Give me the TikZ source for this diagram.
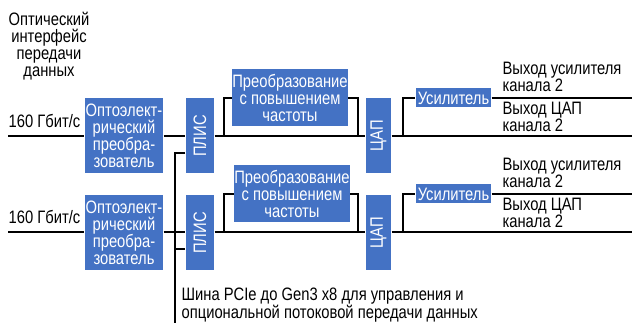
\documentclass[tikz,border=0pt]{standalone}
\usepackage{fontspec}
\setmainfont{Liberation Sans}[FakeStretch=0.82]
\usepackage{graphicx}
\definecolor{boxblue}{HTML}{4472C4}
\tikzset{
  blk/.style={fill=boxblue, text=white, inner sep=0pt, align=center},
  lbl/.style={inner sep=0pt, align=left},
}
\begin{document}
\begin{tikzpicture}[x=1pt,y=-1pt,line width=1.2pt,font=\fontsize{18}{17}\selectfont]
\useasboundingbox (0,0) rectangle (632,323);
% upper channel
\node[blk,minimum width=78pt,minimum height=75pt] (opto1) at (124,136) {Оптоэлект-\\рический\\преобра-\\зователь};
\node[blk,minimum width=28pt,minimum height=75pt] (plis1) at (200,136) {\rotatebox{90}{ПЛИС}};
\node[blk,minimum width=114pt,minimum height=57pt] (up1) at (290,98) {Преобразование\\с повышением\\частоты};
\node[blk,minimum width=25pt,minimum height=75pt] (dac1) at (378.5,136) {\rotatebox{90}{ЦАП}};
\node[blk,minimum width=75pt,minimum height=19pt] (amp1) at (453.5,98) {Усилитель};
% lower channel
\node[blk,minimum width=78pt,minimum height=75pt] (opto2) at (124,233) {Оптоэлект-\\рический\\преобра-\\зователь};
\node[blk,minimum width=28pt,minimum height=75pt] (plis2) at (200,233) {\rotatebox{90}{ПЛИС}};
\node[blk,minimum width=114pt,minimum height=57pt] (up2) at (292,194) {Преобразование\\с повышением\\частоты};
\node[blk,minimum width=25pt,minimum height=75pt] (dac2) at (378.5,233) {\rotatebox{90}{ЦАП}};
\node[blk,minimum width=75pt,minimum height=19pt] (amp2) at (453.5,194) {Усилитель};
% free ends and branch points
\coordinate (in1) at (8,136);
\coordinate (in2) at (8,232);
\coordinate (out1) at (632,136);
\coordinate (out2) at (632,232);
\coordinate (aout1) at (632,98);
\coordinate (aout2) at (632,194);
\coordinate (bus) at (175,323);
% signal paths
\draw (in1) -- (opto1.west |- in1);
\draw (opto1.east |- in1) -- (plis1.west |- in1);
\draw (plis1.east |- in1) -- (dac1.west |- in1);
\draw (224,136) |- (up1.west);
\draw (up1.east) -| (358,136);
\draw (dac1.east |- in1) -- (out1);
\draw (403,136) |- (amp1.west);
\draw (amp1.east) -- (aout1);
\draw (in2) -- (opto2.west |- in2);
\draw (opto2.east |- in2) -- (plis2.west |- in2);
\draw (plis2.east |- in2) -- (dac2.west |- in2);
\draw (224,232) |- (up2.west);
\draw (up2.east) -| (358,232);
\draw (dac2.east |- in2) -- (out2);
\draw (403,232) |- (amp2.west);
\draw (amp2.east) -- (aout2);
% PCIe bus
\draw (plis1.west |- 0,153) -| (bus);
\draw (bus |- 0,249) -- (plis2.west |- 0,249);
% labels
\node[align=center,inner sep=0pt,anchor=north] at (49,12) {Оптический\\интерфейс\\передачи\\данных};
\node[lbl,anchor=base west] at (8,128) {160 Гбит/с};
\node[lbl,anchor=base west] at (8,224) {160 Гбит/с};
\node[lbl,anchor=south west] at (502,92) {Выход усилителя\\канала 2};
\node[lbl,anchor=south west] at (502,132) {Выход ЦАП\\канала 2};
\node[lbl,anchor=south west] at (502,188) {Выход усилителя\\канала 2};
\node[lbl,anchor=south west] at (502,228) {Выход ЦАП\\канала 2};
\node[lbl,anchor=south west] at (181,323) {Шина PCIe до Gen3 x8 для управления и\\опциональной потоковой передачи данных};
\end{tikzpicture}
\end{document}
